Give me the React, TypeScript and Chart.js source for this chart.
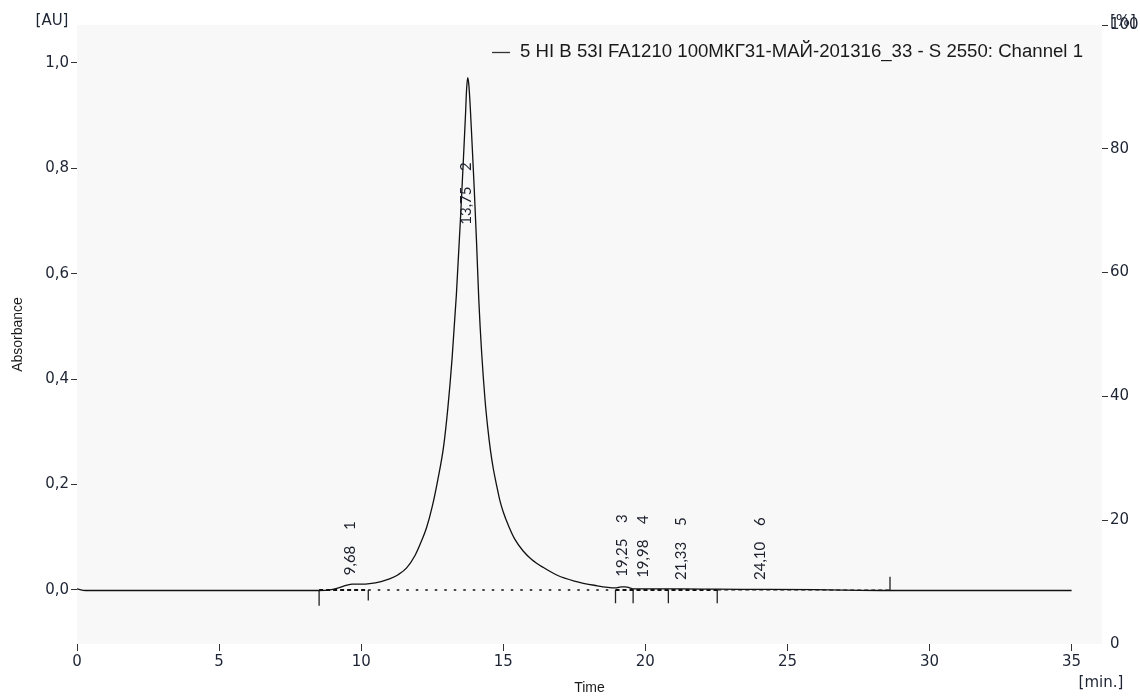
import React, { useEffect, useRef } from 'react';
import { Chart, registerables } from 'chart.js';

Chart.register(...registerables);

// ---- data ----
const timeMin = [
  0, 0.3, 1.5, 3, 5, 7, 8.5, 8.9, 9.2, 9.5, 9.68, 10.0, 10.3, 10.7, 11.0, 11.3, 11.6, 11.9,
  12.1, 12.3, 12.5, 12.7, 12.9, 13.05, 13.2, 13.35, 13.5, 13.6, 13.67, 13.71, 13.75, 13.79,
  13.84, 13.9, 13.98, 14.06, 14.14, 14.24, 14.36, 14.45, 14.55, 14.65, 14.76, 14.88, 15.0,
  15.2, 15.4, 15.7, 16.0, 16.4, 16.9, 17.5, 18.2, 18.95, 19.15, 19.3, 19.45, 19.6, 20.0, 21.3,
  22.5, 24.1, 26.0, 28.6, 31, 35,
];
const absorbanceAU = [
  0.002, -0.001, -0.001, -0.001, -0.001, -0.001, -0.001, 0.0, 0.004, 0.009, 0.011, 0.011,
  0.012, 0.016, 0.021, 0.029, 0.042, 0.066, 0.09, 0.118, 0.158, 0.21, 0.272, 0.345, 0.44,
  0.56, 0.71, 0.82, 0.9, 0.95, 0.972, 0.958, 0.915, 0.85, 0.76, 0.66, 0.55, 0.45, 0.36, 0.31,
  0.265, 0.23, 0.2, 0.17, 0.148, 0.12, 0.097, 0.074, 0.058, 0.043, 0.028, 0.017, 0.009, 0.004,
  0.006, 0.006, 0.004, 0.002, 0.002, 0.002, 0.0015, 0.0012, 0.0006, -0.001, -0.001, -0.001,
];

const seriesLabel = '5 HI B 53I FA1210 100МКГ31-МАЙ-201316_33 - S 2550: Channel 1';

const xTicks = [0, 5, 10, 15, 20, 25, 30, 35];
const yTicks = [0, 0.2, 0.4, 0.6, 0.8, 1.0];
const y2Ticks = [0, 20, 40, 60, 80, 100];

const peakTimes = [9.68, 13.75, 19.25, 19.98, 21.33, 24.1];
const peakTimeLabels = ['9,68', '13,75', '19,25', '19,98', '21,33', '24,10'];
const peakNumbers = ['1', '2', '3', '4', '5', '6'];
const peakLabelBaseAU = [0.028, 0.693, 0.025, 0.023, 0.019, 0.019];

const markerTimes = [8.52, 10.25, 18.95, 19.57, 20.81, 22.53, 28.61];
const markerEndsAU = [-0.03, -0.02, -0.025, -0.025, -0.025, -0.025, 0.025];

const baseSegStart = [8.52, 10.25, 18.95, 22.53];
const baseSegEnd = [10.25, 18.95, 22.53, 28.61];
const baseSegStyle = ['dash', 'dot', 'dash', 'thin'];

const X_MIN = 0;
const X_MAX = 36.07;
const Y_MIN = -0.1025;
const Y_MAX = 1.072;

const TICK_COLOR = '#1d2433';
const TICK_FONT = { family: 'DejaVu Sans', size: 15 };

export default function App() {
  const ref = useRef<HTMLCanvasElement | null>(null);

  useEffect(() => {
    const canvas = ref.current;
    if (!canvas) return;

    const segStyles: Record<string, { dash: number[]; width: number }> = {
      dash: { dash: [4, 3], width: 2 },
      dot: { dash: [2.5, 7], width: 1.7 },
      thin: { dash: [4, 3], width: 1.2 },
    };

    const baseDatasets = baseSegStart.map((s, i) => ({
      label: 'baseline' + i,
      data: [
        { x: s, y: 0 },
        { x: baseSegEnd[i], y: 0 },
      ],
      borderColor: '#111',
      borderWidth: segStyles[baseSegStyle[i]].width,
      borderDash: segStyles[baseSegStyle[i]].dash,
      pointRadius: 0,
      fill: false,
      yAxisID: 'y',
    }));

    const markerData: { x: number; y: number | null }[] = [];
    markerTimes.forEach((t, i) => {
      markerData.push({ x: t, y: 0 });
      markerData.push({ x: t, y: markerEndsAU[i] });
      markerData.push({ x: t, y: null });
    });

    const bgPlugin = {
      id: 'plotBg',
      beforeDraw(chart: any) {
        const { ctx, chartArea } = chart;
        ctx.save();
        ctx.fillStyle = '#ffffff';
        ctx.fillRect(0, 0, chart.width, chart.height);
        ctx.fillStyle = '#f8f8f8';
        ctx.fillRect(chartArea.left, chartArea.top, chartArea.right - chartArea.left, chartArea.bottom - chartArea.top);
        ctx.restore();
      },
    };

    const labelPlugin = {
      id: 'peakLabels',
      afterDatasetsDraw(chart: any) {
        const { ctx, scales } = chart;
        ctx.save();
        ctx.fillStyle = '#1a1f2b';
        ctx.font = '15px Lato';
        ctx.textBaseline = 'middle';
        peakTimes.forEach((t, i) => {
          const x = scales.x.getPixelForValue(t) - 2;
          const y = scales.y.getPixelForValue(peakLabelBaseAU[i]);
          const w = ctx.measureText(peakTimeLabels[i]).width;
          ctx.save();
          ctx.translate(x, y);
          ctx.rotate(-Math.PI / 2);
          ctx.textAlign = 'left';
          ctx.fillText(peakTimeLabels[i], 0, 0);
          ctx.textAlign = 'center';
          ctx.fillText(peakNumbers[i], w + 20, 0);
          ctx.restore();
        });
        ctx.restore();
      },
      afterDraw(chart: any) {
        const { ctx } = chart;
        ctx.save();
        // unit labels
        ctx.fillStyle = TICK_COLOR;
        ctx.font = '15px "DejaVu Sans"';
        ctx.textBaseline = 'middle';
        ctx.textAlign = 'center';
        ctx.fillText('[AU]', 52, 21);
        ctx.fillText('[min.]', 1101, 683);
        ctx.textAlign = 'left';
        ctx.fillText('[%]', 1110, 22);
        // legend (series name), sized to span the reference width
        const ds = chart.data.datasets[0];
        ctx.font = '15px "Liberation Sans"';
        const w15 = ctx.measureText(ds.label).width;
        const size = Math.max(14, Math.min(20, (15 * 563) / w15));
        ctx.font = size.toFixed(2) + 'px "Liberation Sans"';
        ctx.fillStyle = '#1a1a1a';
        ctx.textAlign = 'right';
        const right = 1083;
        const ly = 52;
        ctx.fillText(ds.label, right, ly);
        const tw = ctx.measureText(ds.label).width;
        const lineEnd = right - tw - 10;
        ctx.strokeStyle = '#333';
        ctx.lineWidth = 1.3;
        ctx.beginPath();
        ctx.moveTo(lineEnd - 18, ly + 0.5);
        ctx.lineTo(lineEnd, ly + 0.5);
        ctx.stroke();
        ctx.restore();
      },
    };

    const chart = new Chart(canvas, {
      type: 'line',
      data: {
        datasets: [
          {
            label: seriesLabel,
            data: timeMin.map((t, i) => ({ x: t, y: absorbanceAU[i] })),
            borderColor: '#111111',
            borderWidth: 1.3,
            pointRadius: 0,
            fill: false,
            cubicInterpolationMode: 'monotone',
            yAxisID: 'y',
            order: 0,
          },
          ...baseDatasets,
          {
            label: 'markers',
            data: markerData,
            borderColor: '#222',
            borderWidth: 1.3,
            pointRadius: 0,
            spanGaps: false,
            fill: false,
            yAxisID: 'y',
          },
        ],
      },
      options: {
        animation: false,
        responsive: false,
        devicePixelRatio: 1,
        layout: { padding: { top: 25, right: 0, bottom: 0, left: 0 } },
        plugins: {
          legend: { display: false },
          tooltip: { enabled: false },
        },
        scales: {
          x: {
            type: 'linear',
            min: X_MIN,
            max: X_MAX,
            afterBuildTicks: (s: any) => {
              s.ticks = xTicks.map((v) => ({ value: v }));
            },
            afterFit: (s: any) => {
              s.height = 53;
            },
            grid: { display: true, drawOnChartArea: false, drawTicks: true, tickLength: 7, color: '#333' },
            border: { display: false },
            ticks: {
              color: TICK_COLOR,
              font: TICK_FONT,
              padding: 2,
              maxRotation: 0,
              callback: (v: any) => String(v),
            },
            title: {
              display: true,
              text: 'Time',
              color: '#1a1a1a',
              font: { family: 'Liberation Sans', size: 14 },
              padding: { top: 0, bottom: 0 },
            },
          },
          y: {
            type: 'linear',
            position: 'left',
            min: Y_MIN,
            max: Y_MAX,
            afterBuildTicks: (s: any) => {
              s.ticks = yTicks.map((v) => ({ value: v }));
            },
            afterFit: (s: any) => {
              s.width = 77;
            },
            grid: { display: true, drawOnChartArea: false, drawTicks: true, tickLength: 6, color: '#333' },
            border: { display: false },
            ticks: {
              color: TICK_COLOR,
              font: TICK_FONT,
              padding: 2,
              callback: (v: any) => Number(v).toFixed(1).replace('.', ','),
            },
            title: {
              display: true,
              text: 'Absorbance',
              color: '#1a1a1a',
              font: { family: 'Liberation Sans', size: 14 },
              padding: { top: 10, bottom: 0 },
            },
          },
          y2: {
            type: 'linear',
            position: 'right',
            min: 0,
            max: 100,
            afterBuildTicks: (s: any) => {
              s.ticks = y2Ticks.map((v) => ({ value: v }));
            },
            afterFit: (s: any) => {
              s.width = 38;
            },
            grid: {
              display: true,
              drawOnChartArea: false,
              drawTicks: true,
              tickLength: 6,
              color: (c: any) => (c.tick && c.tick.value === 0 ? 'rgba(0,0,0,0)' : '#333'),
            },
            border: { display: false },
            ticks: {
              color: TICK_COLOR,
              font: TICK_FONT,
              padding: 2,
              callback: (v: any) => String(v),
            },
          },
        },
      },
      plugins: [bgPlugin, labelPlugin],
    } as any);

    return () => chart.destroy();
  }, []);

  return (
    <div style={{ position: 'absolute', left: 0, top: 0, width: 1140, height: 697, background: '#fff' }}>
      <canvas ref={ref} width={1140} height={697} style={{ display: 'block', width: 1140, height: 697 }} />
    </div>
  );
}
